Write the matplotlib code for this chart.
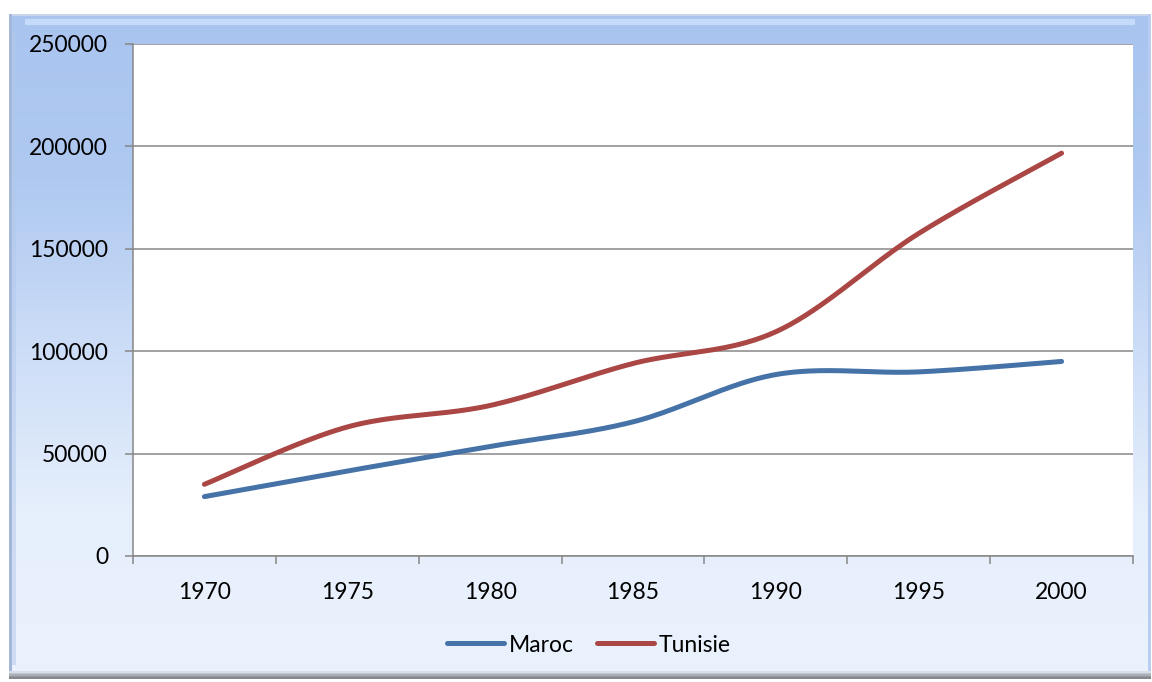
import numpy as np
import matplotlib
matplotlib.use("Agg")
import matplotlib.pyplot as plt
from matplotlib.colors import LinearSegmentedColormap
from matplotlib.patches import Rectangle, Polygon

# ---- data ----
years = ["1970", "1975", "1980", "1985", "1990", "1995", "2000"]
maroc = [29000, 41500, 53500, 65500, 88600, 89900, 95000]
tunisie = [35000, 63000, 73500, 94000, 109500, 157500, 196700]
y_ticks = [0, 50000, 100000, 150000, 200000, 250000]

BLUE = "#4572A7"
RED = "#AA4643"
GRID = "#878787"
FONT = "Lato"

plt.rcParams["font.family"] = [FONT, "DejaVu Sans"]

W, H = 1152, 682
fig = plt.figure(figsize=(W / 100, H / 100), dpi=100)
fig.patch.set_facecolor("white")

# ---- background panel (Excel-like bevelled gradient frame) ----
bg = fig.add_axes([0, 0, 1, 1], zorder=0)
bg.set_xlim(0, W)
bg.set_ylim(H, 0)
bg.axis("off")
x0, x1, y0, y1 = 9, 1151, 14, 679
cmap = LinearSegmentedColormap.from_list(
    "bgc", ["#A9C4EF", "#AFC9F1", "#CCDDF7", "#E6EFFC", "#EAF2FD"])
grad = np.linspace(0, 1, 256).reshape(-1, 1)
bg.imshow(grad, cmap=cmap, extent=[x0, x1, y1, y0], aspect="auto", zorder=1)
# top highlight band
bg.add_patch(Rectangle((x0, y0), x1 - x0, 2, color="#C8D6EC", zorder=2, lw=0))
bg.add_patch(Rectangle((x0 + 16, y0 + 5), x1 - x0 - 32, 6, color="#C6DCFA", zorder=2, lw=0))
# left shadow edge
bg.add_patch(Rectangle((x0, y0), 3, y1 - y0, color="#A3B7D9", zorder=2, lw=0))
bg.add_patch(Rectangle((x0 + 3, y0 + 16), 4, y1 - y0 - 30, color="#B4C9EC", alpha=0.5, zorder=2, lw=0))
# right edge
bg.add_patch(Rectangle((x1 - 3, y0), 3, y1 - y0, color="#B8CDF0", zorder=2, lw=0))
# bottom shadow band
for i, c in enumerate(["#D8DEE8", "#C2C8D2", "#A9AEB6", "#93979E", "#85888D"]):
    bg.add_patch(Rectangle((x0, y1 - 8 + i * 1.6), x1 - x0, 1.7, color=c, zorder=2, lw=0))

# ---- plot area ----
L, R, T, B = 133, 1133, 44, 556
ax = fig.add_axes([L / W, 1 - B / H, (R - L) / W, (B - T) / H], zorder=2)
ax.set_facecolor("white")


def smooth(vals, n=40):
    """Excel-like Bezier smoothing through the data points."""
    xs = np.arange(len(vals), dtype=float)
    ys = np.asarray(vals, dtype=float)
    P = np.column_stack([xs, ys])
    Pe = np.vstack([P[0], P, P[-1]])
    out = [P[:1]]
    t = np.linspace(0, 1, n)[1:, None]
    for i in range(len(P) - 1):
        p0, p3 = Pe[i + 1], Pe[i + 2]
        c1 = p0 + (Pe[i + 2] - Pe[i]) / 6.0
        c2 = p3 - (Pe[i + 3] - Pe[i + 1]) / 6.0
        seg = ((1 - t) ** 3) * p0 + 3 * ((1 - t) ** 2) * t * c1 + 3 * (1 - t) * t ** 2 * c2 + t ** 3 * p3
        out.append(seg)
    arr = np.vstack(out)
    return arr[:, 0], arr[:, 1]


for vals, col, name in [(maroc, BLUE, "Maroc"), (tunisie, RED, "Tunisie")]:
    sx, sy = smooth(vals)
    ax.plot(sx, sy, color=col, lw=3.6, solid_capstyle="round", label=name, zorder=3)

ax.set_xlim(-0.5, len(years) - 0.5)
ax.set_ylim(0, 250000)
ax.set_yticks(y_ticks)
ax.set_yticklabels([str(v) for v in y_ticks])
ax.set_xticks(np.arange(len(years)))
ax.set_xticklabels(years)
ax.set_xticks(np.arange(len(years) + 1) - 0.5, minor=True)

ax.grid(axis="y", color=GRID, lw=1.1, zorder=1)
ax.set_axisbelow(True)
for s in ["top", "right"]:
    ax.spines[s].set_visible(False)
for s in ["left", "bottom"]:
    ax.spines[s].set_color(GRID)
    ax.spines[s].set_linewidth(1.1)

ax.tick_params(axis="y", length=6, width=1.1, color=GRID, pad=12, labelsize=16.5, labelcolor="black")
ax.tick_params(axis="x", which="major", length=0, pad=19, labelsize=16.5, labelcolor="black")
ax.tick_params(axis="x", which="minor", length=5.5, width=1.1, color=GRID)

leg = fig.legend(loc="center", bbox_to_anchor=(589 / W, 1 - 645 / H), ncol=2, frameon=False,
                 fontsize=16.5, handlelength=2.5, handletextpad=0.2, columnspacing=1.0)

fig.savefig("out.png", dpi=100, facecolor="white")
